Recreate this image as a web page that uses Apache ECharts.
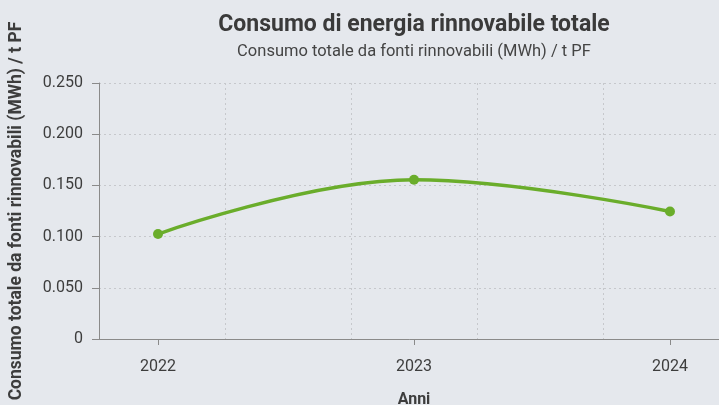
<!DOCTYPE html>
<html>
<head>
<meta charset="utf-8">
<script src="https://cdn.jsdelivr.net/npm/echarts@6/dist/echarts.min.js"></script>
<style>
html,body{margin:0;padding:0;background:#e5e8ed;}
#c{width:719px;height:405px;}
</style>
</head>
<body>
<div id="c"></div>
<script>
var years = [2022, 2023, 2024];
var values = [0.1025, 0.1555, 0.1245];
var yTicks = [0, 0.05, 0.1, 0.15, 0.2, 0.25];

var chart = echarts.init(document.getElementById('c'), null, {renderer: 'canvas'});
var txt = '#3d3d3d';
var axisGray = '#8a8a8a';
var gridGray = '#c6c8cc';
chart.setOption({
  backgroundColor: '#e5e8ed',
  animation: false,
  title: {
    text: 'Consumo di energia rinnovabile totale',
    subtext: 'Consumo totale da fonti rinnovabili (MWh) / t PF',
    left: 409,
    top: 9,
    textAlign: 'center',
    itemGap: 6,
    textStyle: {fontFamily: 'Roboto', fontSize: 23, fontWeight: 'bold', color: '#3a3a3a'},
    subtextStyle: {fontFamily: 'Roboto', fontSize: 16.5, color: '#444'}
  },
  grid: {left: 99, width: 630, top: 83, bottom: 66, containLabel: false, outerBoundsMode: 'none'},
  xAxis: [{
    type: 'value',
    min: 2021.7695,
    max: 2024.2305,
    name: 'Anni',
    nameLocation: 'middle',
    nameGap: 53,
    nameTextStyle: {fontFamily: 'Roboto', fontSize: 16, fontWeight: 'bold', color: txt},
    axisLine: {show: true, lineStyle: {color: axisGray, width: 1}},
    axisTick: {show: true, customValues: years, length: 6, lineStyle: {color: axisGray}},
    axisLabel: {customValues: years, fontFamily: 'Roboto', fontSize: 16, color: txt, margin: 20,
      formatter: function(v){ return String(Math.round(v)); }},
    splitLine: {show: false}
  }, {
    type: 'value',
    min: 0, max: 5, interval: 1,
    position: 'bottom',
    show: true,
    axisLine: {show: false},
    axisTick: {show: false},
    axisLabel: {show: false},
    splitLine: {show: true, lineStyle: {color: gridGray, type: [2, 3], width: 1}}
  }],
  yAxis: {
    type: 'value',
    min: 0, max: 0.25, interval: 0.05,
    name: 'Consumo totale da fonti rinnovabili (MWh) / t PF',
    nameLocation: 'middle',
    nameGap: 73,
    nameTextStyle: {fontFamily: 'Roboto', fontSize: 17.5, fontWeight: 'bold', color: txt},
    axisLine: {show: true, lineStyle: {color: axisGray, width: 1}},
    axisTick: {show: true, length: 7, lineStyle: {color: axisGray}},
    axisLabel: {fontFamily: 'Roboto', fontSize: 16, color: txt, margin: 16,
      formatter: function(v){ return v === 0 ? '0' : v.toFixed(3); }},
    splitLine: {show: true, lineStyle: {color: gridGray, type: [2, 3], width: 1}}
  },
  series: [{
    type: 'line',
    xAxisIndex: 0,
    data: years.map(function(y, i){ return [y, values[i]]; }),
    smooth: 0.4,
    symbol: 'circle',
    symbolSize: 10,
    itemStyle: {color: '#6aad2b'},
    lineStyle: {color: '#6aad2b', width: 3.5}
  }]
});
</script>
</body>
</html>
